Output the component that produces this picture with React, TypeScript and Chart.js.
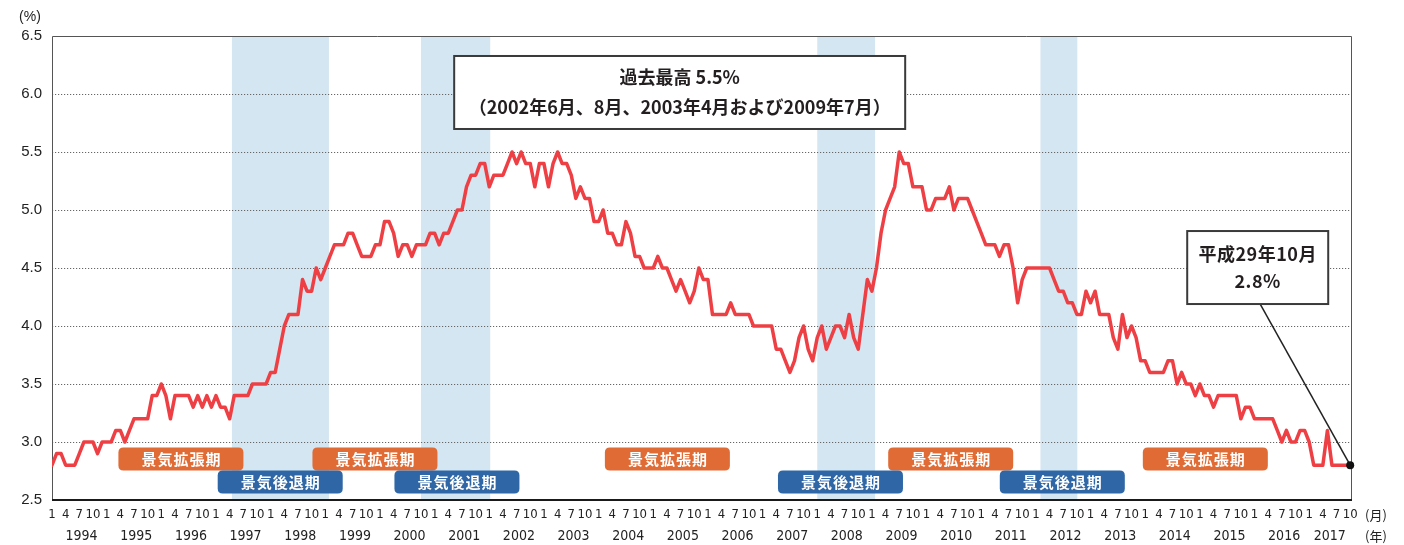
import React, { useEffect, useRef } from "react";
import { Chart, registerables } from "chart.js";

Chart.register(...registerables);

// ---- data: monthly unemployment rate (%), Jan 1994 – Oct 2017 ----
const v1994 = [2.8, 2.9, 2.9, 2.8, 2.8, 2.8, 2.9, 3.0, 3.0, 3.0, 2.9, 3.0];
const v1995 = [3.0, 3.0, 3.1, 3.1, 3.0, 3.1, 3.2, 3.2, 3.2, 3.2, 3.4, 3.4];
const v1996 = [3.5, 3.4, 3.2, 3.4, 3.4, 3.4, 3.4, 3.3, 3.4, 3.3, 3.4, 3.3];
const v1997 = [3.4, 3.3, 3.3, 3.2, 3.4, 3.4, 3.4, 3.4, 3.5, 3.5, 3.5, 3.5];
const v1998 = [3.6, 3.6, 3.8, 4.0, 4.1, 4.1, 4.1, 4.4, 4.3, 4.3, 4.5, 4.4];
const v1999 = [4.5, 4.6, 4.7, 4.7, 4.7, 4.8, 4.8, 4.7, 4.6, 4.6, 4.6, 4.7];
const v2000 = [4.7, 4.9, 4.9, 4.8, 4.6, 4.7, 4.7, 4.6, 4.7, 4.7, 4.7, 4.8];
const v2001 = [4.8, 4.7, 4.8, 4.8, 4.9, 5.0, 5.0, 5.2, 5.3, 5.3, 5.4, 5.4];
const v2002 = [5.2, 5.3, 5.3, 5.3, 5.4, 5.5, 5.4, 5.5, 5.4, 5.4, 5.2, 5.4];
const v2003 = [5.4, 5.2, 5.4, 5.5, 5.4, 5.4, 5.3, 5.1, 5.2, 5.1, 5.1, 4.9];
const v2004 = [4.9, 5.0, 4.8, 4.8, 4.7, 4.7, 4.9, 4.8, 4.6, 4.6, 4.5, 4.5];
const v2005 = [4.5, 4.6, 4.5, 4.5, 4.4, 4.3, 4.4, 4.3, 4.2, 4.3, 4.5, 4.4];
const v2006 = [4.4, 4.1, 4.1, 4.1, 4.1, 4.2, 4.1, 4.1, 4.1, 4.1, 4.0, 4.0];
const v2007 = [4.0, 4.0, 4.0, 3.8, 3.8, 3.7, 3.6, 3.7, 3.9, 4.0, 3.8, 3.7];
const v2008 = [3.9, 4.0, 3.8, 3.9, 4.0, 4.0, 3.9, 4.1, 3.9, 3.8, 4.1, 4.4];
const v2009 = [4.3, 4.5, 4.8, 5.0, 5.1, 5.2, 5.5, 5.4, 5.4, 5.2, 5.2, 5.2];
const v2010 = [5.0, 5.0, 5.1, 5.1, 5.1, 5.2, 5.0, 5.1, 5.1, 5.1, 5.0, 4.9];
const v2011 = [4.8, 4.7, 4.7, 4.7, 4.6, 4.7, 4.7, 4.5, 4.2, 4.4, 4.5, 4.5];
const v2012 = [4.5, 4.5, 4.5, 4.5, 4.4, 4.3, 4.3, 4.2, 4.2, 4.1, 4.1, 4.3];
const v2013 = [4.2, 4.3, 4.1, 4.1, 4.1, 3.9, 3.8, 4.1, 3.9, 4.0, 3.9, 3.7];
const v2014 = [3.7, 3.6, 3.6, 3.6, 3.6, 3.7, 3.7, 3.5, 3.6, 3.5, 3.5, 3.4];
const v2015 = [3.5, 3.4, 3.4, 3.3, 3.4, 3.4, 3.4, 3.4, 3.4, 3.2, 3.3, 3.3];
const v2016 = [3.2, 3.2, 3.2, 3.2, 3.2, 3.1, 3.0, 3.1, 3.0, 3.0, 3.1, 3.1];
const v2017 = [3.0, 2.8, 2.8, 2.8, 3.1, 2.8, 2.8, 2.8, 2.8, 2.8];

const yearSeries = [
  v1994, v1995, v1996, v1997, v1998, v1999, v2000, v2001, v2002, v2003, v2004, v2005,
  v2006, v2007, v2008, v2009, v2010, v2011, v2012, v2013, v2014, v2015, v2016, v2017,
];
const yearLabels = [
  "1994", "1995", "1996", "1997", "1998", "1999", "2000", "2001", "2002", "2003", "2004", "2005",
  "2006", "2007", "2008", "2009", "2010", "2011", "2012", "2013", "2014", "2015", "2016", "2017",
];
const monthTickLabels = ["1", "4", "7", "10"];
const yTickValues = [2.5, 3.0, 3.5, 4.0, 4.5, 5.0, 5.5, 6.0, 6.5];

// recession periods (month index from Jan 1994)
const recessionFrom = [39.5, 81.0, 168.0, 217.0];
const recessionTo = [60.8, 96.2, 180.7, 225.1];

// phase labels (month index, rate value)
const expansionText = "景気拡張期";
const expansionAtMonth = [28.3, 70.9, 135.1, 197.3, 253.2];
const expansionAtValue = 2.853;
const contractionText = "景気後退期";
const contractionAtMonth = [50.1, 88.9, 173.1, 221.8];
const contractionAtValue = 2.655;

// callouts
const peakCallout = ["過去最高 5.5%", "（2002年6月、8月、2003年4月および2009年7月）"];
const peakCalloutAt = { month: 137.8, value: 6.013 };
const latestCallout = ["平成29年10月", "2.8%"];
const latestCalloutAt = { month: 264.7, value: 4.504 };

// ---- derived ----
const rates: number[] = yearSeries.flat();
const points = rates.map((v, i) => ({ x: i, y: v }));
const lastIndex = rates.length - 1;
const monthTicks: number[] = [];
for (let i = 0; i <= lastIndex; i += 3) monthTicks.push(i);
const yearTicks = yearSeries.map((arr, k) => k * 12 + (arr.length - 1) / 2 + (arr.length === 12 ? 1 : 0));

const CJK = '"Noto Sans CJK JP", "Noto Sans", sans-serif';
const NARROW = '"Liberation Sans Narrow", "DejaVu Sans Condensed", "Liberation Sans", Arial, sans-serif';
const REG = '"Liberation Sans", Arial, sans-serif';

function roundRect(ctx: CanvasRenderingContext2D, x: number, y: number, w: number, h: number, r: number) {
  ctx.beginPath();
  ctx.moveTo(x + r, y);
  ctx.lineTo(x + w - r, y);
  ctx.quadraticCurveTo(x + w, y, x + w, y + r);
  ctx.lineTo(x + w, y + h - r);
  ctx.quadraticCurveTo(x + w, y + h, x + w - r, y + h);
  ctx.lineTo(x + r, y + h);
  ctx.quadraticCurveTo(x, y + h, x, y + h - r);
  ctx.lineTo(x, y + r);
  ctx.quadraticCurveTo(x, y, x + r, y);
  ctx.closePath();
}

const decorPlugin = {
  id: "decor",
  beforeDraw(chart: any) {
    const { ctx, chartArea: a, scales } = chart;
    const xs = scales.x;
    const ys = scales.y;
    ctx.save();
    ctx.fillStyle = "#ffffff";
    ctx.fillRect(0, 0, chart.width, chart.height);
    // recession shading
    ctx.fillStyle = "#d4e6f1";
    recessionFrom.forEach((f, i) => {
      const x1 = xs.getPixelForValue(f);
      const x2 = xs.getPixelForValue(recessionTo[i]);
      ctx.fillRect(x1, a.top, x2 - x1, a.bottom - a.top);
    });
    // dotted grid lines
    ctx.strokeStyle = "#666";
    ctx.lineWidth = 1;
    ctx.setLineDash([1.2, 1.8]);
    yTickValues.forEach((v) => {
      if (v <= ys.min || v >= ys.max) return;
      const py = Math.round(ys.getPixelForValue(v)) + 0.5;
      ctx.beginPath();
      ctx.moveTo(a.left, py);
      ctx.lineTo(a.right, py);
      ctx.stroke();
    });
    ctx.setLineDash([]);
    // frame
    ctx.strokeStyle = "#555";
    ctx.lineWidth = 1;
    ctx.beginPath();
    ctx.moveTo(Math.round(a.left) + 0.5, a.bottom);
    ctx.lineTo(Math.round(a.left) + 0.5, Math.round(a.top) + 0.5);
    ctx.lineTo(Math.round(a.right) - 0.5, Math.round(a.top) + 0.5);
    ctx.lineTo(Math.round(a.right) - 0.5, a.bottom);
    ctx.stroke();
    ctx.strokeStyle = "#1a1a1a";
    ctx.lineWidth = 2;
    ctx.beginPath();
    ctx.moveTo(a.left, Math.round(a.bottom));
    ctx.lineTo(a.right, Math.round(a.bottom));
    ctx.stroke();
    ctx.restore();
  },
  afterDatasetsDraw(chart: any) {
    const { ctx, scales } = chart;
    const xs = scales.x;
    const ys = scales.y;
    ctx.save();
    // phase pills
    const pill = (cx: number, cy: number, color: string, text: string) => {
      const w = 125, h = 23;
      ctx.fillStyle = color;
      roundRect(ctx, cx - w / 2, cy - h / 2, w, h, 5);
      ctx.fill();
      ctx.fillStyle = "#ffffff";
      ctx.font = `bold 15px ${CJK}`;
      ctx.textAlign = "center";
      ctx.textBaseline = "middle";
      (ctx as any).letterSpacing = "1px";
      ctx.fillText(text, cx + 0.5, cy + 0.5);
      (ctx as any).letterSpacing = "0px";
    };
    expansionAtMonth.forEach((m) =>
      pill(xs.getPixelForValue(m), ys.getPixelForValue(expansionAtValue), "#e06b35", expansionText)
    );
    contractionAtMonth.forEach((m) =>
      pill(xs.getPixelForValue(m), ys.getPixelForValue(contractionAtValue), "#2e66a6", contractionText)
    );

    // callout boxes
    const box = (cx: number, cy: number, w: number, h: number, lines: string[], size: number, gap: number) => {
      ctx.fillStyle = "#ffffff";
      ctx.fillRect(cx - w / 2, cy - h / 2, w, h);
      ctx.strokeStyle = "#3a3a3a";
      ctx.lineWidth = 2;
      ctx.strokeRect(cx - w / 2, cy - h / 2, w, h);
      ctx.fillStyle = "#231f20";
      ctx.font = `bold ${size}px ${CJK}`;
      ctx.textAlign = "center";
      ctx.textBaseline = "middle";
      lines.forEach((t, i) => {
        ctx.fillText(t, cx, cy + (i - (lines.length - 1) / 2) * gap);
      });
    };
    const pcx = xs.getPixelForValue(peakCalloutAt.month);
    const pcy = ys.getPixelForValue(peakCalloutAt.value);
    box(pcx, pcy, 451, 73, peakCallout, 18, 30);

    const lcx = xs.getPixelForValue(latestCalloutAt.month);
    const lcy = ys.getPixelForValue(latestCalloutAt.value);
    // connector
    const ex = xs.getPixelForValue(lastIndex);
    const ey = ys.getPixelForValue(rates[lastIndex]);
    ctx.strokeStyle = "#222";
    ctx.lineWidth = 1.5;
    ctx.beginPath();
    ctx.moveTo(lcx + 2.5, lcy + 36.5);
    ctx.lineTo(ex, ey);
    ctx.stroke();
    (ctx as any).letterSpacing = "0.5px";
    box(lcx, lcy, 141, 73, latestCallout, 18, 27);
    (ctx as any).letterSpacing = "0px";
    // end marker
    ctx.fillStyle = "#111";
    ctx.beginPath();
    ctx.arc(ex, ey, 4, 0, Math.PI * 2);
    ctx.fill();

    ctx.restore();
  },
  afterDraw(chart: any) {
    const { ctx, chartArea: a } = chart;
    ctx.save();
    ctx.fillStyle = "#222";
    ctx.textAlign = "center";
    ctx.textBaseline = "middle";
    ctx.font = `14px ${REG}`;
    ctx.fillText("(%)", 30, 17);
    ctx.font = `13px ${CJK}`;
    ctx.fillText("(月)", a.right + 24, 515);
    ctx.fillText("(年)", a.right + 24, 536);
    ctx.restore();
  },
};

export default function App() {
  const ref = useRef<HTMLCanvasElement>(null);
  useEffect(() => {
    if (!ref.current) return;
    const chart = new Chart(ref.current, {
      type: "line",
      data: {
        datasets: [
          {
            label: "完全失業率",
            data: points,
            borderColor: "#ee4044",
            borderWidth: 3.5,
            pointRadius: 0,
            tension: 0,
            fill: false,
            borderJoinStyle: "round",
            borderCapStyle: "round",
          },
        ],
      },
      options: {
        animation: false,
        responsive: false,
        maintainAspectRatio: false,
        devicePixelRatio: 1,
        layout: { padding: { top: 36, right: 52, left: 0, bottom: 0 } },
        plugins: { legend: { display: false }, tooltip: { enabled: false } },
        scales: {
          x: {
            type: "linear",
            position: "bottom",
            weight: 0,
            min: 0,
            max: lastIndex + 0.4,
            grid: { display: false, drawTicks: false },
            border: { display: false },
            afterBuildTicks: (s: any) => {
              s.ticks = monthTicks.map((v) => ({ value: v }));
            },
            afterFit: (s: any) => {
              s.height = 22;
            },
            ticks: {
              autoSkip: false,
              maxRotation: 0,
              minRotation: 0,
              padding: 7,
              color: "#222",
              font: { family: NARROW, size: 13 },
              callback: (_v: any, i: number) => monthTickLabels[i % 4],
            },
          },
          x2: {
            type: "linear",
            position: "bottom",
            weight: 1,
            min: 0,
            max: lastIndex + 0.4,
            grid: { display: false, drawTicks: false },
            border: { display: false },
            afterBuildTicks: (s: any) => {
              s.ticks = yearTicks.map((v) => ({ value: v }));
            },
            afterFit: (s: any) => {
              s.height = 23;
            },
            ticks: {
              autoSkip: false,
              maxRotation: 0,
              minRotation: 0,
              padding: 6,
              color: "#222",
              font: { family: NARROW, size: 14 },
              callback: (_v: any, i: number) => yearLabels[i],
            },
          },
          y: {
            min: 2.5,
            max: 6.5,
            grid: { display: false, drawTicks: false },
            border: { display: false },
            afterBuildTicks: (s: any) => {
              s.ticks = yTickValues.map((v) => ({ value: v }));
            },
            afterFit: (s: any) => {
              s.width = 52;
            },
            ticks: {
              padding: 10,
              color: "#222",
              font: { family: REG, size: 15 },
              callback: (v: any) => Number(v).toFixed(1),
            },
          },
        },
      },
      plugins: [decorPlugin],
    } as any);
    return () => chart.destroy();
  }, []);

  return (
    <div style={{ position: "fixed", left: 0, top: 0, width: 1404, height: 545, background: "#fff" }}>
      <canvas ref={ref} width={1404} height={545} style={{ display: "block", width: 1404, height: 545 }} />
    </div>
  );
}
